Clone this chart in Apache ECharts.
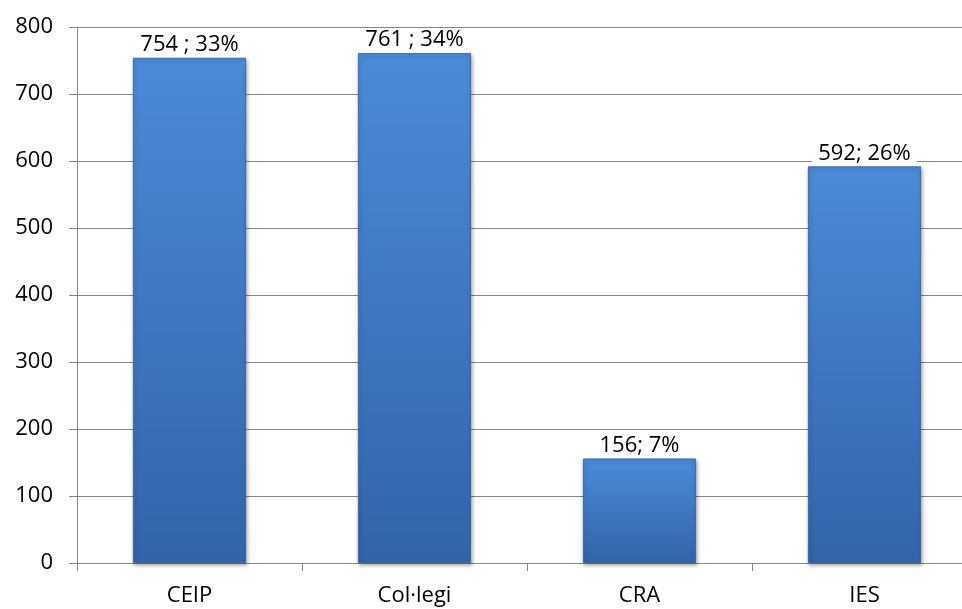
<!DOCTYPE html>
<html><head><meta charset="utf-8">
<script src="https://cdn.jsdelivr.net/npm/echarts@6/dist/echarts.min.js"></script>
<style>html,body{margin:0;padding:0;background:#fff}#c{width:962px;height:609px}</style>
</head><body><div id="c"></div>
<script>
const categories = ['CEIP', 'Col·legi', 'CRA', 'IES'];
const values = [754, 761, 156, 592];
const labelTexts = ['754 ; 33%', '761 ; 34%', '156; 7%', '592; 26%'];
const yTicks = [0, 100, 200, 300, 400, 500, 600, 700, 800];

const chart = echarts.init(document.getElementById('c'), null, {renderer: 'canvas'});
const font = '"Open Sans", sans-serif';
chart.setOption({
  animation: false,
  grid: {left: 77, top: 27, bottom: 46, width: 900, containLabel: false, outerBoundsMode: 'none'},
  xAxis: {
    type: 'category', data: categories,
    axisLine: {lineStyle: {color: '#868686', width: 1}},
    axisTick: {show: true, length: 8, alignWithLabel: false, lineStyle: {color: '#868686'}},
    axisLabel: {color: '#000', fontFamily: font, fontSize: 22, margin: 22}
  },
  yAxis: {
    type: 'value', min: yTicks[0], max: yTicks[yTicks.length - 1], interval: 100,
    axisLine: {show: true, lineStyle: {color: '#868686', width: 1}},
    axisTick: {show: true, length: 8, lineStyle: {color: '#868686'}},
    axisLabel: {color: '#000', fontFamily: font, fontSize: 22, margin: 24},
    splitLine: {lineStyle: {color: '#868686', width: 1}}
  },
  series: [{
    type: 'bar',
    data: values,
    barWidth: 113,
    itemStyle: {
      color: new echarts.graphic.LinearGradient(0, 0, 0, 1, [
        {offset: 0, color: '#4b8bd8'},
        {offset: 1, color: '#3364a9'}
      ]),
      borderColor: '#2f5e9e', borderWidth: 0.8,
      shadowColor: 'rgba(0,0,0,0.35)', shadowBlur: 4, shadowOffsetX: 1, shadowOffsetY: 2
    },
    label: {
      show: true, position: 'top', distance: 1,
      formatter: p => labelTexts[p.dataIndex],
      color: '#000', fontFamily: font, fontSize: 22,
      backgroundColor: '#fff', padding: [1, 6, 1, 6]
    }
  }]
});
</script></body></html>
